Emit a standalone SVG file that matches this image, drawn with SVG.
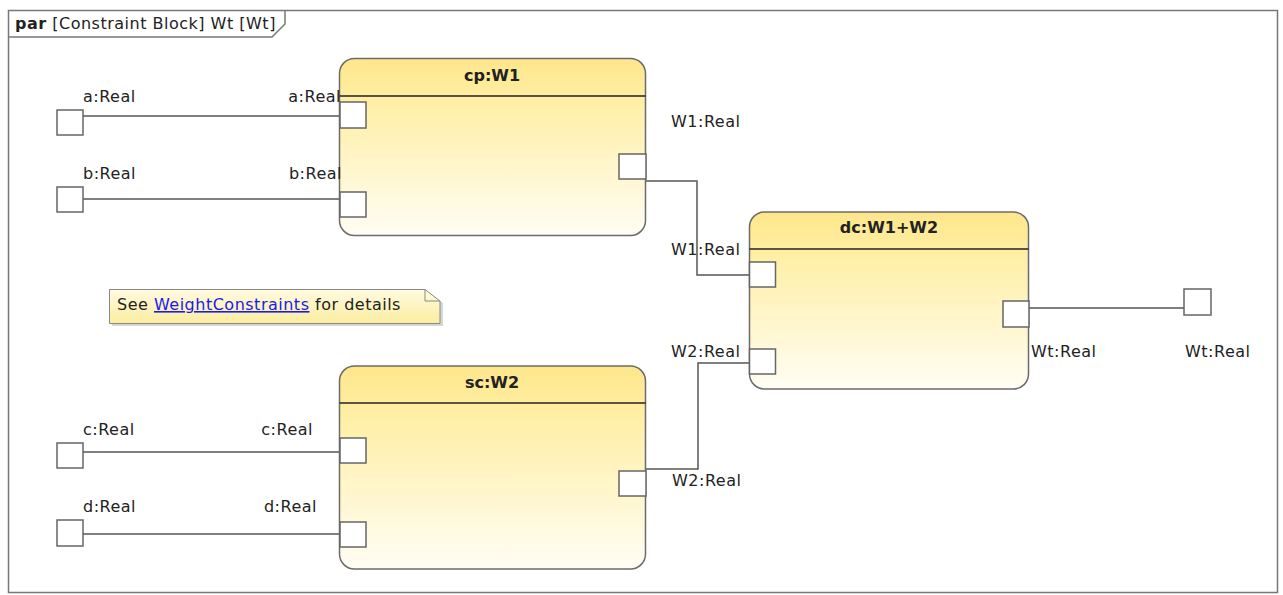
<svg xmlns="http://www.w3.org/2000/svg" width="1283" height="595" viewBox="0 0 1283 595">
<defs>
<linearGradient id="blockFill" x1="0" y1="0" x2="0" y2="1">
<stop offset="0" stop-color="#FEE68A"/>
<stop offset="0.25" stop-color="#FFEFA6"/>
<stop offset="1" stop-color="#FFFDF4"/>
</linearGradient>
<linearGradient id="noteFill" x1="0" y1="0" x2="0" y2="1">
<stop offset="0" stop-color="#FFFBE0"/>
<stop offset="1" stop-color="#FBEDA0"/>
</linearGradient>
</defs>
<style>
.frame{fill:#fff;stroke:#777;stroke-width:1.5}
.block{fill:url(#blockFill);stroke:#6b6b6b;stroke-width:1.5}
.sep{stroke:#222;stroke-width:1.5}
.port{fill:#fff;stroke:#666;stroke-width:1.5}
.wire{fill:none;stroke:#555;stroke-width:1.5}
.lbl{font-family:"DejaVu Sans","Liberation Sans",sans-serif;font-size:16px;letter-spacing:0.5px;fill:#222}
.title{font-family:"DejaVu Sans","Liberation Sans",sans-serif;font-size:16px;font-weight:bold;fill:#222;text-anchor:middle}
.note{fill:url(#noteFill);stroke:#888;stroke-width:1}
</style>
<g id="frame">
<rect class="frame" x="8.5" y="10.5" width="1269" height="582"/>
<path d="M8.5 37 L272 37 L285 24 L285 10.5" fill="none" stroke="#777" stroke-width="1.5"/>
<text x="15" y="29" class="lbl"><tspan font-weight="bold">par</tspan> [Constraint Block] Wt [Wt]</text>
</g>
<g id="connectors">
<path class="wire" d="M83 116 L340 116"/>
<path class="wire" d="M83 199 L340 199"/>
<path class="wire" d="M83 452 L340 452"/>
<path class="wire" d="M83 534 L340 534"/>
<path class="wire" d="M646 181 L697 181 L697 275 L749 275"/>
<path class="wire" d="M646 469 L698 469 L698 363 L749 363"/>
<path class="wire" d="M1029 308 L1184 308"/>
</g>
<g id="ext-a">
<rect class="port" x="57" y="110" width="26" height="25"/>
<text class="lbl" x="83" y="102">a:Real</text>
</g>
<g id="ext-b">
<rect class="port" x="57" y="187" width="26" height="25"/>
<text class="lbl" x="83" y="179">b:Real</text>
</g>
<g id="ext-c">
<rect class="port" x="57" y="443" width="26" height="25"/>
<text class="lbl" x="83" y="435">c:Real</text>
</g>
<g id="ext-d">
<rect class="port" x="57" y="520" width="26" height="26"/>
<text class="lbl" x="83" y="512">d:Real</text>
</g>
<g id="ext-wt">
<rect class="port" x="1184" y="289" width="27" height="26"/>
<text class="lbl" x="1185" y="357">Wt:Real</text>
</g>
<g id="cp">
<rect class="block" x="339.5" y="58.5" width="306" height="177" rx="15"/>
<line class="sep" x1="339.5" y1="96" x2="645.5" y2="96"/>
<text class="title" x="492" y="81">cp:W1</text>
<rect class="port" x="340" y="102" width="26" height="26"/>
<rect class="port" x="340" y="192" width="26" height="25"/>
<rect class="port" x="619" y="154" width="27" height="25"/>
<text class="lbl" x="341" y="102" text-anchor="end">a:Real</text>
<text class="lbl" x="342" y="179" text-anchor="end">b:Real</text>
<text class="lbl" x="671" y="127">W1:Real</text>
</g>
<g id="sc">
<rect class="block" x="339.5" y="366" width="306" height="203" rx="15"/>
<line class="sep" x1="339.5" y1="403" x2="645.5" y2="403"/>
<text class="title" x="492" y="388">sc:W2</text>
<rect class="port" x="340" y="438" width="26" height="25"/>
<rect class="port" x="340" y="522" width="26" height="25"/>
<rect class="port" x="619" y="471" width="27" height="25"/>
<text class="lbl" x="313" y="435" text-anchor="end">c:Real</text>
<text class="lbl" x="317" y="512" text-anchor="end">d:Real</text>
<text class="lbl" x="672" y="486">W2:Real</text>
</g>
<g id="dc">
<rect class="block" x="749.5" y="212" width="279" height="177" rx="15"/>
<line class="sep" x1="749.5" y1="249" x2="1028.5" y2="249"/>
<text class="title" x="889" y="233">dc:W1+W2</text>
<rect class="port" x="749.5" y="262" width="26" height="25"/>
<rect class="port" x="749.5" y="349" width="26" height="25"/>
<rect class="port" x="1003" y="301" width="26" height="26"/>
<text class="lbl" x="671" y="255">W1:Real</text>
<text class="lbl" x="671" y="357">W2:Real</text>
<text class="lbl" x="1031" y="357">Wt:Real</text>
</g>
<g id="note">
<path d="M112 292 L428 292 L443 303 L443 326 L112 326 Z" fill="#bbb" opacity="0.6"/>
<path class="note" d="M109.5 289.5 L425 289.5 L440 301 L440 323.5 L109.5 323.5 Z"/>
<path d="M425 289.5 L425 301 L440 301" fill="none" stroke="#888" stroke-width="1"/>
<text class="lbl" x="117" y="310">See <tspan fill="#1a1aee" text-decoration="underline">WeightConstraints</tspan> for details</text>
</g>
</svg>
